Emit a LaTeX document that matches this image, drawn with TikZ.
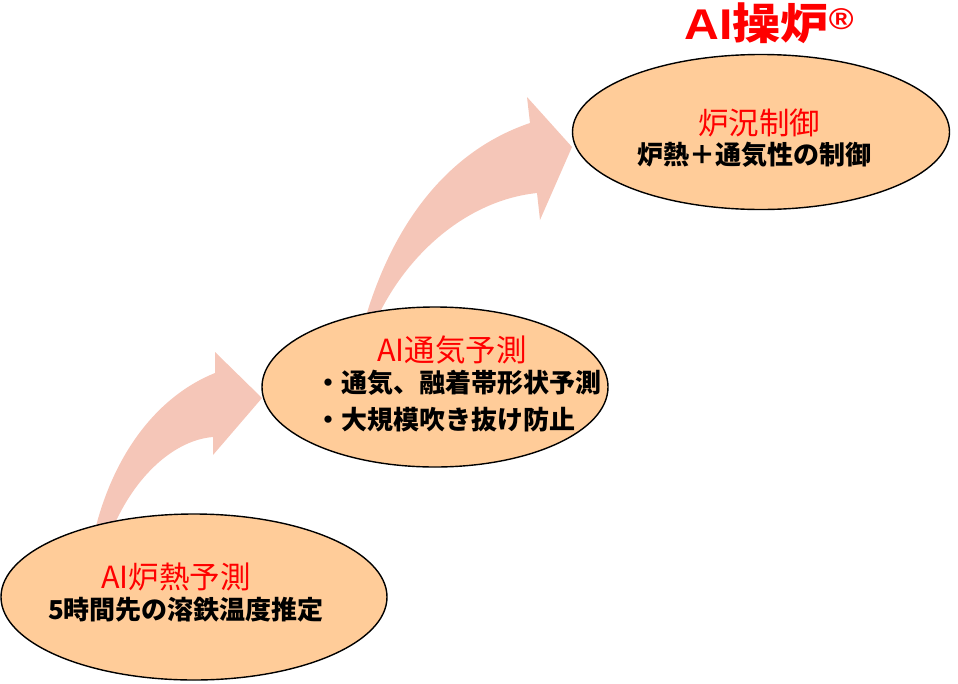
\documentclass[tikz,border=0pt]{standalone}
\usepackage{fontspec}
\usetikzlibrary{shapes.geometric}
\newfontfamily\jp{Noto Sans CJK JP}
\newfontfamily\latb{Liberation Sans}
\definecolor{ellfill}{HTML}{FFCC99}
\definecolor{arrowc}{HTML}{F5C6B8}
\definecolor{redtxt}{HTML}{FF0000}
\begin{document}
\begin{tikzpicture}[x=1pt,y=-1pt,
  ell/.style={ellipse, draw=black, line width=1.4pt, fill=ellfill, inner sep=0pt},
  redlab/.style={text=redtxt, font=\jp\fontsize{30.5}{33}\selectfont, inner sep=0pt},
  blklab/.style={text=black, font=\jp\bfseries\fontsize{26}{29}\selectfont, inner sep=0pt},
  titlelab/.style={text=redtxt, font=\jp\bfseries\fontsize{43}{46}\selectfont, inner sep=0pt},
  bigarrow/.style={fill=arrowc}]
\useasboundingbox (0,0) rectangle (958,683);
% curved arrows
\fill[bigarrow] (95,530) .. controls (115,450) and (160,395) .. (215,373)
  -- (215,352) -- (262,398) -- (213,455) -- (213,437)
  .. controls (175,440) and (135,475) .. (112,530) -- cycle;
\fill[bigarrow] (366,316) .. controls (395,220) and (450,150) .. (530,123)
  -- (527,97) -- (572,147) -- (540,220) -- (537,193)
  .. controls (470,200) and (410,250) .. (378,316) -- cycle;
% ellipses
\node[ell, minimum width=386pt, minimum height=166pt] (e1) at (194,597) {};
\node[ell, minimum width=346pt, minimum height=160pt] (e2) at (435,387) {};
\node[ell, minimum width=377pt, minimum height=155pt] (e3) at (761,132) {};
% texts
\node[redlab] (t1a) at (176,577) {AI炉熱予測};
\node[blklab] (t1b) at (186,610) {5時間先の溶鉄温度推定};
\node[redlab] (t2a) at (452,350) {AI通気予測};
\node[blklab, anchor=west] (t2b) at (315,383) {・通気、融着帯形状予測};
\node[blklab, anchor=west] (t2c) at (315,420) {・大規模吹き抜け防止};
\node[redlab] (t3a) at (759,123) {炉況制御};
\node[blklab] (t3b) at (754,155) {炉熱＋通気性の制御};
\node[titlelab, xscale=1.12] (ttl) at (769,23) {{\latb\bfseries AI}操炉\raisebox{0.22em}{\latb\bfseries\fontsize{30}{32}\selectfont ®}};
\end{tikzpicture}
\end{document}
